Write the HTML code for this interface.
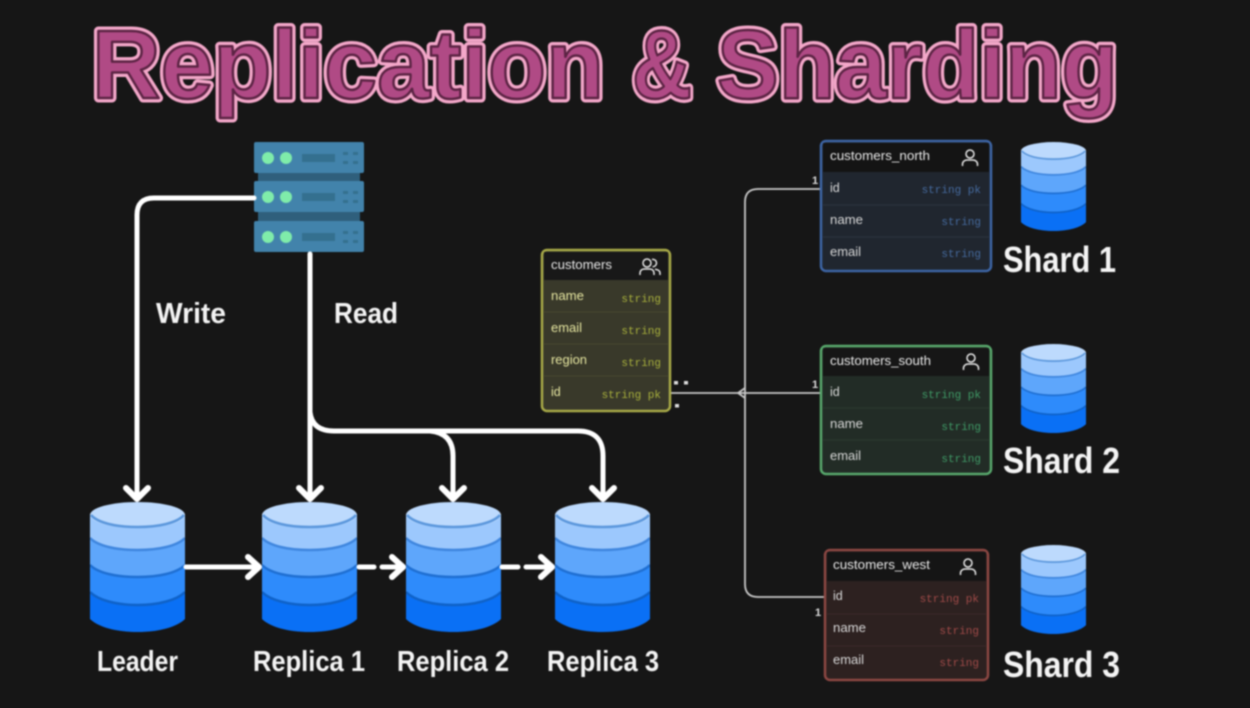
<!DOCTYPE html>
<html><head><meta charset="utf-8"><style>
html,body{margin:0;padding:0;background:#161616;width:1250px;height:708px;overflow:hidden}
svg{display:block;filter:blur(.7px)}
text{font-family:"Liberation Sans",sans-serif}
.t{font-family:"Liberation Sans",sans-serif;font-weight:700;font-size:97px}
.o{fill:none;stroke:#f3a7c9;stroke-width:9;stroke-linejoin:round}
.i{fill:#b04a85;stroke:#5c2444;stroke-width:2.500;stroke-linejoin:round}
.lab{font-weight:700;fill:#f4f4f4;font-size:29px}
.lab2{font-weight:700;fill:#f4f4f4;font-size:36px}
.h{font-size:12.500px;fill:#e8e8e8}
.f{font-size:12.500px}
.m{font-family:"Liberation Mono",monospace;font-size:11px}
.w{fill:none;stroke:#fff;stroke-width:5;stroke-linejoin:round;stroke-linecap:round}
.a{fill:none;stroke:#fff;stroke-width:6;stroke-linejoin:round;stroke-linecap:round}
.c{fill:none;stroke:#c8c8c8;stroke-width:1.800}
</style></head><body>
<svg width="1250" height="708" viewBox="0 0 1250 708" xmlns="http://www.w3.org/2000/svg">
<defs>
<symbol id="db" viewBox="0 0 95 130" width="95" height="130">
<path d="M0 13V117C8 125 26 130 47.500 130S87 125 95 117V13Z" fill="#0a70f5"/>
<path d="M0 13V90C8 98 26 103 47.500 103S87 98 95 90V13Z" fill="#2e8bfb"/>
<path d="M0 13V63C8 71 26 75 47.500 75S87 71 95 63V13Z" fill="#5ea6fb"/>
<path d="M0 13V36C8 44 26 48 47.500 48S87 44 95 36V13Z" fill="#9cc8fd"/>
<ellipse cx="47.500" cy="13" rx="47.500" ry="13" fill="#bddafd"/>
<path d="M1 13C8 21 26 25 47.500 25S87 21 94 13" fill="none" stroke="#5b97dc" stroke-width="2.500"/>
<path d="M0 36C8 44 26 48 47.500 48S87 44 95 36" fill="none" stroke="#3f86de" stroke-width="2.500"/>
<path d="M0 63C8 71 26 75 47.500 75S87 71 95 63" fill="none" stroke="#1f6fd2" stroke-width="2.500"/>
<path d="M0 90C8 98 26 103 47.500 103S87 98 95 90" fill="none" stroke="#0f62c8" stroke-width="2.500"/>
</symbol>
<symbol id="rack" viewBox="0 0 110 32" width="110" height="32">
<rect width="110" height="31" rx="2" fill="#4283ab"/>
<circle cx="14" cy="16" r="6" fill="#7fecaa"/><circle cx="32" cy="16" r="6" fill="#7fecaa"/>
<rect x="48" y="12" width="33" height="8" fill="#34708f"/>
<rect x="89" y="10" width="5" height="3" fill="#34708f"/><rect x="99" y="10" width="5" height="3" fill="#34708f"/>
<rect x="89" y="19" width="5" height="3" fill="#34708f"/><rect x="99" y="19" width="5" height="3" fill="#34708f"/>
</symbol>
<symbol id="person" viewBox="0 0 20 20" width="20" height="20">
<circle cx="10" cy="6" r="4" fill="none" stroke="#e8e8e8" stroke-width="1.500"/>
<path d="M2.500 18V16C2.500 13.500 5 12 7 12H13C15 12 17.500 13.500 17.500 16V18" fill="none" stroke="#e8e8e8" stroke-width="1.500"/>
</symbol>
<symbol id="people" viewBox="0 0 22 20" width="22" height="20">
<circle cx="8" cy="6" r="4" fill="none" stroke="#e8e8e8" stroke-width="1.500"/>
<path d="M1 18V16C1 13.500 3 12 5 12H11C13 12 15 13.500 15 16V18" fill="none" stroke="#e8e8e8" stroke-width="1.500"/>
<path d="M13 2.200C16 2.200 17.500 4 17.500 6S16 9.800 13.500 9.800M16 12.200C19 12.500 21 14 21 16V18" fill="none" stroke="#e8e8e8" stroke-width="1.500"/>
</symbol>
</defs>

<text class="t o" x="92" y="98" textLength="512" lengthAdjust="spacingAndGlyphs">Replication</text>
<text class="t o" x="632" y="98" textLength="60" lengthAdjust="spacingAndGlyphs">&amp;</text>
<text class="t o" x="717" y="98" textLength="401" lengthAdjust="spacingAndGlyphs">Sharding</text>
<text class="t i" x="92" y="98" textLength="512" lengthAdjust="spacingAndGlyphs">Replication</text>
<text class="t i" x="632" y="98" textLength="60" lengthAdjust="spacingAndGlyphs">&amp;</text>
<text class="t i" x="717" y="98" textLength="401" lengthAdjust="spacingAndGlyphs">Sharding</text>

<!-- server -->
<rect x="258" y="170" width="102" height="60" fill="#2f5f7c"/>
<use href="#rack" x="254" y="142"/>
<use href="#rack" x="254" y="181"/>
<use href="#rack" x="254" y="221"/>

<!-- write / read -->
<path class="w" d="M254 198H154Q137 198 137 215V498"/>
<path class="a" d="M126 488L137 499L148 488"/>
<path class="w" d="M310 254V498"/>
<path class="a" d="M299 488L310 499L321 488"/>
<path class="w" d="M310 412Q312 431 334 431H578Q603 431 603 456V498"/>
<path class="a" d="M592 488L603 499L614 488"/>
<path class="w" d="M430 431Q453 433 453 456V498"/>
<path class="a" d="M442 488L453 499L464 488"/>

<text class="lab" x="156" y="323" textLength="70" lengthAdjust="spacingAndGlyphs">Write</text>
<text class="lab" x="334" y="323" textLength="64" lengthAdjust="spacingAndGlyphs">Read</text>

<use href="#db" x="90" y="502"/>
<use href="#db" x="262" y="502"/>
<use href="#db" x="406" y="502"/>
<use href="#db" x="555" y="502"/>

<path class="w" d="M186 567H258"/><path class="a" d="M248 557L259 567L248 577"/>
<path class="w" d="M359 567H374"/><path class="w" d="M382 567H402"/><path class="a" d="M392 557L403 567L392 577"/>
<path class="w" d="M502 567H518"/><path class="w" d="M526 567H551"/><path class="a" d="M541 557L552 567L541 577"/>

<text class="lab" x="97" y="671" textLength="81" lengthAdjust="spacingAndGlyphs">Leader</text>
<text class="lab" x="253" y="671" textLength="112" lengthAdjust="spacingAndGlyphs">Replica 1</text>
<text class="lab" x="397" y="671" textLength="112" lengthAdjust="spacingAndGlyphs">Replica 2</text>
<text class="lab" x="547" y="671" textLength="112" lengthAdjust="spacingAndGlyphs">Replica 3</text>

<!-- connectors -->
<path class="c" d="M668 393H820"/>
<path class="c" d="M820 189H758Q745 189 745 202V584Q745 597 758 597H825"/>
<path class="c" d="M738 393L745 388M738 393L745 398"/>
<rect x="674" y="381" width="4" height="3.500" fill="#ddd"/><rect x="684" y="381" width="4" height="3.500" fill="#ddd"/><rect x="675" y="404" width="4" height="3.500" fill="#ddd"/>
<text x="812" y="184" font-size="11" fill="#ddd" font-weight="700">1</text>
<text x="812" y="388" font-size="11" fill="#ddd" font-weight="700">1</text>
<text x="815" y="616" font-size="11" fill="#ddd" font-weight="700">1</text>

<!-- customers -->
<rect x="542" y="250" width="128" height="161" rx="5" fill="#39392a" stroke="#a8aa48" stroke-width="2.500"/>
<rect x="544" y="252" width="124" height="28" fill="#181818"/>
<path d="M544 312H668M544 344H668M544 376H668" stroke="#48482e" stroke-width="1"/>
<text class="h" x="551" y="269" textLength="61" lengthAdjust="spacingAndGlyphs">customers</text>
<use href="#people" x="639" y="257"/>
<text class="f" x="551" y="300" fill="#e6e6a0" textLength="33" lengthAdjust="spacingAndGlyphs">name</text>
<text class="f" x="551" y="332" fill="#e6e6a0" textLength="31" lengthAdjust="spacingAndGlyphs">email</text>
<text class="f" x="551" y="364" fill="#e6e6a0" textLength="36" lengthAdjust="spacingAndGlyphs">region</text>
<text class="f" x="551" y="396" fill="#e6e6a0">id</text>
<text class="m" x="661" y="302" text-anchor="end" fill="#a8b03c">string</text>
<text class="m" x="661" y="334" text-anchor="end" fill="#a8b03c">string</text>
<text class="m" x="661" y="366" text-anchor="end" fill="#a8b03c">string</text>
<text class="m" x="661" y="398" text-anchor="end" fill="#a8b03c">string pk</text>

<!-- north -->
<rect x="821" y="141" width="170" height="130" rx="5" fill="#20262f" stroke="#3d65a5" stroke-width="2.500"/>
<rect x="823" y="143" width="166" height="29" fill="#141414"/>
<path d="M823 205H989M823 237H989" stroke="#2c3442" stroke-width="1"/>
<text class="h" x="830" y="160" textLength="100" lengthAdjust="spacingAndGlyphs">customers_north</text>
<use href="#person" x="960" y="148"/>
<text class="f" x="830" y="192" fill="#d8d8d8">id</text>
<text class="f" x="830" y="224" fill="#d8d8d8" textLength="33" lengthAdjust="spacingAndGlyphs">name</text>
<text class="f" x="830" y="256" fill="#d8d8d8" textLength="31" lengthAdjust="spacingAndGlyphs">email</text>
<text class="m" x="981" y="193" text-anchor="end" fill="#456a9e">string pk</text>
<text class="m" x="981" y="225" text-anchor="end" fill="#456a9e">string</text>
<text class="m" x="981" y="257" text-anchor="end" fill="#456a9e">string</text>

<!-- south -->
<rect x="821" y="346" width="170" height="128" rx="5" fill="#222c26" stroke="#58a86c" stroke-width="2.500"/>
<rect x="823" y="348" width="166" height="28" fill="#161616"/>
<path d="M823 408H989M823 440H989" stroke="#2d3a30" stroke-width="1"/>
<text class="h" x="830" y="365" textLength="101" lengthAdjust="spacingAndGlyphs">customers_south</text>
<use href="#person" x="961" y="352"/>
<text class="f" x="830" y="396" fill="#d8d8d8">id</text>
<text class="f" x="830" y="428" fill="#d8d8d8" textLength="33" lengthAdjust="spacingAndGlyphs">name</text>
<text class="f" x="830" y="460" fill="#d8d8d8" textLength="31" lengthAdjust="spacingAndGlyphs">email</text>
<text class="m" x="981" y="398" text-anchor="end" fill="#3f9a66">string pk</text>
<text class="m" x="981" y="430" text-anchor="end" fill="#3f9a66">string</text>
<text class="m" x="981" y="462" text-anchor="end" fill="#3f9a66">string</text>

<!-- west -->
<rect x="825" y="550" width="163" height="130" rx="5" fill="#2d2120" stroke="#8c4743" stroke-width="2.500"/>
<rect x="827" y="552" width="159" height="29" fill="#151515"/>
<path d="M827 614H986M827 646H986" stroke="#3c2a28" stroke-width="1"/>
<text class="h" x="833" y="569" textLength="97" lengthAdjust="spacingAndGlyphs">customers_west</text>
<use href="#person" x="958" y="557"/>
<text class="f" x="833" y="600" fill="#d8d8d8">id</text>
<text class="f" x="833" y="632" fill="#d8d8d8" textLength="33" lengthAdjust="spacingAndGlyphs">name</text>
<text class="f" x="833" y="664" fill="#d8d8d8" textLength="31" lengthAdjust="spacingAndGlyphs">email</text>
<text class="m" x="979" y="602" text-anchor="end" fill="#a04a48">string pk</text>
<text class="m" x="979" y="634" text-anchor="end" fill="#a04a48">string</text>
<text class="m" x="979" y="666" text-anchor="end" fill="#a04a48">string</text>

<!-- shards -->
<use href="#db" x="1021" y="142" width="65" height="89"/>
<use href="#db" x="1021" y="344" width="65" height="89"/>
<use href="#db" x="1021" y="545" width="65" height="89"/>
<text class="lab2" x="1003" y="272" textLength="113" lengthAdjust="spacingAndGlyphs">Shard 1</text>
<text class="lab2" x="1003" y="473" textLength="117" lengthAdjust="spacingAndGlyphs">Shard 2</text>
<text class="lab2" x="1003" y="677" textLength="117" lengthAdjust="spacingAndGlyphs">Shard 3</text>
</svg>
</body></html>
